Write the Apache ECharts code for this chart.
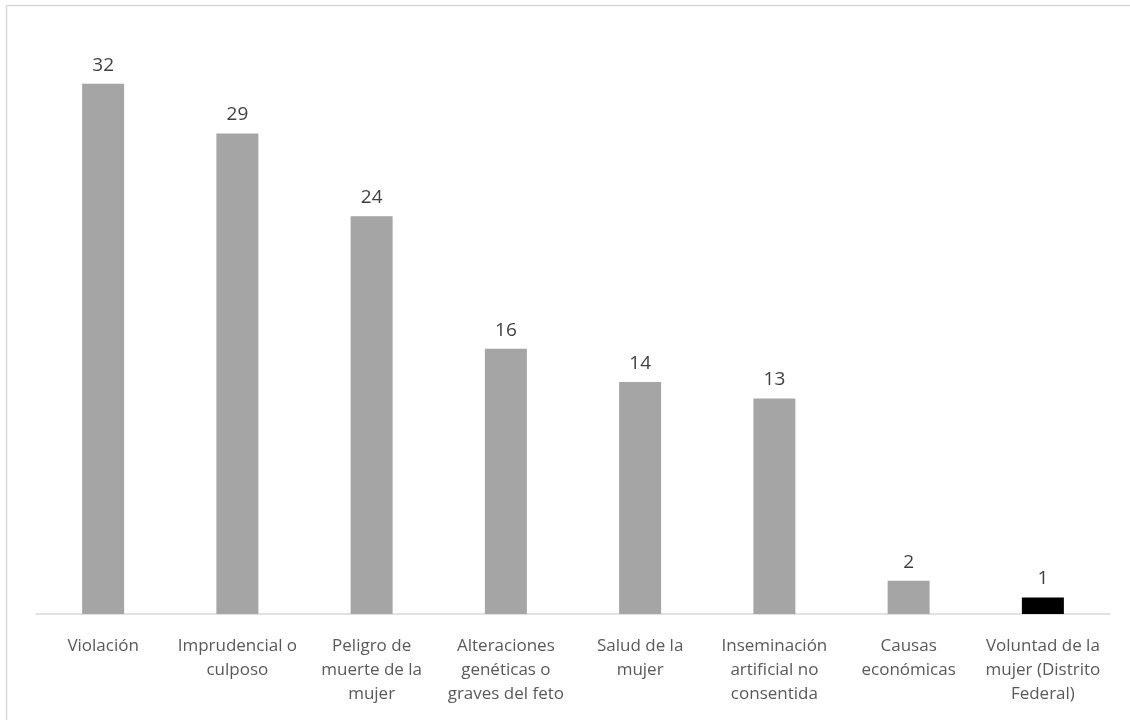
<!DOCTYPE html>
<html>
<head>
<meta charset="utf-8">
<script src="https://cdn.jsdelivr.net/npm/echarts@6/dist/echarts.min.js"></script>
<style>
  html, body { margin: 0; padding: 0; background: #fff; }
  #chart { width: 1130px; height: 720px; }
</style>
</head>
<body>
<div id="chart"></div>
<script>
// causas de aborto
const categories = ['Violación', 'Imprudencial o culposo', 'Peligro de muerte de la mujer',
    'Alteraciones genéticas o graves del feto', 'Salud de la mujer',
    'Inseminación artificial no consentida', 'Causas económicas', 'Voluntad de la mujer (Distrito Federal)'];
const tickLabels = ['Violación', 'Imprudencial o\nculposo', 'Peligro de\nmuerte de la\nmujer',
    'Alteraciones\ngenéticas o\ngraves del feto', 'Salud de la\nmujer',
    'Inseminación\nartificial no\nconsentida', 'Causas\neconómicas', 'Voluntad de la\nmujer (Distrito\nFederal)'];
const values = [32, 29, 24, 16, 14, 13, 2, 1];
const barColors = ['#a5a5a5', '#a5a5a5', '#a5a5a5', '#a5a5a5', '#a5a5a5', '#a5a5a5', '#a5a5a5', '#000000'];

let chart = echarts.init(document.getElementById('chart'));
let option = {
    animation: false,
    textStyle: { fontFamily: '"Open Sans", "Noto Sans", sans-serif' },
    graphic: [{
        type: 'polyline',
        shape: { points: [[6.5, 720], [6.5, 5.5], [1130, 5.5]] },
        style: { fill: 'none', stroke: '#d9d9d9', lineWidth: 1.5 },
        silent: true
    }],
    grid: { left: 36, right: 20, top: 34, bottom: 106 },
    xAxis: {
        type: 'category',
        data: categories,
        axisLine: { lineStyle: { color: '#d9d9d9', width: 1.5 } },
        axisTick: { show: false },
        axisLabel: {
            interval: 0,
            margin: 20,
            color: '#595959',
            fontSize: 17,
            lineHeight: 24,
            formatter: function (value, index) {
                return tickLabels[index];
            }
        }
    },
    yAxis: {
        type: 'value',
        min: 0,
        max: 35,
        show: false
    },
    series: [{
        type: 'bar',
        barWidth: 42,
        data: values.map(function (v, i) {
            return { value: v, itemStyle: { color: barColors[i] } };
        }),
        label: {
            show: true,
            position: 'top',
            distance: 9,
            color: '#404040',
            fontSize: 19
        }
    }]
};
chart.setOption(option);
</script>
</body>
</html>
